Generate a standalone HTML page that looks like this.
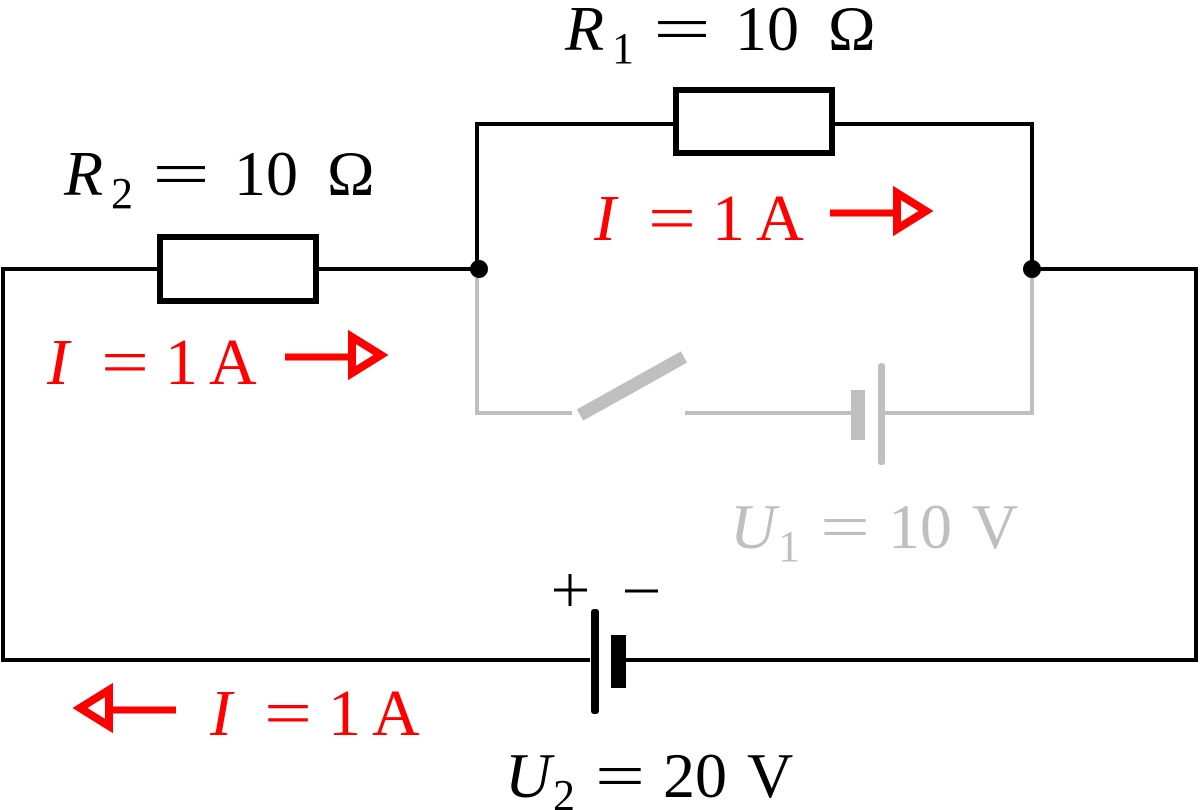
<!DOCTYPE html>
<html><head><style>html,body{margin:0;padding:0;background:#fff}svg{display:block}text{font-family:"Liberation Serif","DejaVu Serif","Times New Roman",serif}</style></head><body>
<svg width="1200" height="810" viewBox="0 0 1200 810" xmlns="http://www.w3.org/2000/svg" font-size="64">
<g fill="none" stroke="#000" stroke-width="4">
<polyline points="160,269 3,269 3,660 590,660"/>
<line x1="316" y1="269" x2="477" y2="269"/>
<polyline points="477,269 477,124 675,124"/>
<polyline points="833,124 1032,124 1032,269"/>
<polyline points="1032,269 1196,269 1196,660 625,660"/>
<rect x="160" y="237" width="156" height="64" stroke-width="6"/>
<rect x="676" y="90" width="156" height="63" stroke-width="6"/>
</g>
<circle cx="479" cy="269" r="9"/>
<circle cx="1032" cy="269" r="9"/>
<rect x="591" y="609" width="8" height="105" rx="3"/>
<rect x="611" y="635" width="15" height="53"/>
<g stroke="#000" stroke-width="3"><line x1="554" y1="590" x2="587" y2="590"/><line x1="570" y1="574" x2="570" y2="606"/><line x1="625" y1="591" x2="658" y2="591"/></g>
<g fill="none" stroke="#bfbfbf" stroke-width="4">
<polyline points="477,278 477,413 572,413"/>
<polyline points="685,413 855,413"/>
<polyline points="882,413 1032,413 1032,278"/>
</g>
<line x1="580" y1="415" x2="684" y2="357" stroke="#bfbfbf" stroke-width="13"/>
<rect x="851" y="390" width="14" height="50" fill="#bfbfbf"/>
<rect x="878" y="363" width="7" height="102" rx="3" fill="#bfbfbf"/>
<g fill="#f00" stroke="#f00">
<line x1="830" y1="213" x2="895" y2="213" stroke-width="7"/>
<polygon points="897,193 926,211 897,229" fill="#fff" stroke-width="8"/>
<line x1="285" y1="357" x2="350" y2="357" stroke-width="7"/>
<polygon points="352,337 381,355 352,373" fill="#fff" stroke-width="8"/>
<line x1="176" y1="710" x2="111" y2="710" stroke-width="7"/>
<polygon points="109,690 80,708 109,726" fill="#fff" stroke-width="8"/>
</g>
<g fill="#f00" font-size="66">
<text x="594" y="240"><tspan font-style="italic">I</tspan><tspan x="648" textLength="48" lengthAdjust="spacingAndGlyphs">=</tspan><tspan x="712">1</tspan><tspan x="756">A</tspan></text>
<text x="47" y="384"><tspan font-style="italic">I</tspan><tspan x="101" textLength="48" lengthAdjust="spacingAndGlyphs">=</tspan><tspan x="165">1</tspan><tspan x="209">A</tspan></text>
<text x="210" y="735"><tspan font-style="italic">I</tspan><tspan x="264" textLength="48" lengthAdjust="spacingAndGlyphs">=</tspan><tspan x="328">1</tspan><tspan x="372">A</tspan></text>
</g>
<text x="565" y="50"><tspan font-style="italic">R</tspan><tspan font-size="44" x="612" dy="13">1</tspan><tspan dy="-13" x="653" textLength="58" lengthAdjust="spacingAndGlyphs">=</tspan><tspan x="735">10</tspan><tspan x="828">Ω</tspan></text>
<text x="64" y="195"><tspan font-style="italic">R</tspan><tspan font-size="44" x="111" dy="13">2</tspan><tspan dy="-13" x="152" textLength="58" lengthAdjust="spacingAndGlyphs">=</tspan><tspan x="234">10</tspan><tspan x="327">Ω</tspan></text>
<text x="730" y="548" fill="#bfbfbf"><tspan font-style="italic">U</tspan><tspan font-size="44" x="778" dy="13">1</tspan><tspan dy="-13" x="820" textLength="50" lengthAdjust="spacingAndGlyphs">=</tspan><tspan x="888">10</tspan><tspan x="972">V</tspan></text>
<text x="505" y="797"><tspan font-style="italic">U</tspan><tspan font-size="44" x="553" dy="13">2</tspan><tspan dy="-13" x="595" textLength="50" lengthAdjust="spacingAndGlyphs">=</tspan><tspan x="663">20</tspan><tspan x="747">V</tspan></text>
</svg>
</body></html>
